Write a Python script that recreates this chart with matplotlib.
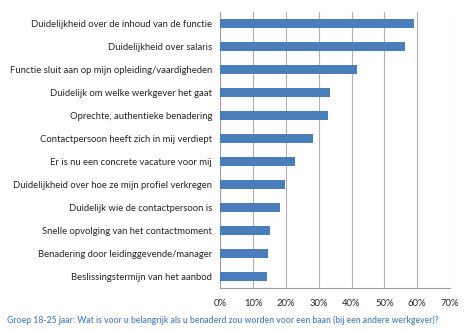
import matplotlib
matplotlib.use("Agg")
import numpy as np
from matplotlib import pyplot as plt
from matplotlib.ticker import PercentFormatter

labels = [
    "Duidelijkheid over de inhoud van de functie",
    "Duidelijkheid over salaris",
    "Functie sluit aan op mijn opleiding/vaardigheden",
    "Duidelijk om welke werkgever het gaat",
    "Oprechte, authentieke benadering",
    "Contactpersoon heeft zich in mij verdiept",
    "Er is nu een concrete vacature voor mij",
    "Duidelijkheid over hoe ze mijn profiel verkregen",
    "Duidelijk wie de contactpersoon is",
    "Snelle opvolging van het contactmoment",
    "Benadering door leidinggevende/manager",
    "Beslissingstermijn van het aanbod",
]
values = [59.1, 56.2, 41.8, 33.5, 32.9, 28.3, 22.9, 19.7, 18.3, 15.2, 14.4, 14.1]
caption = "Groep 18-25 jaar: Wat is voor u belangrijk als u benaderd zou worden voor een baan (bij een andere werkgever)?"

plt.rcParams['font.family'] = ['Lato', 'DejaVu Sans']

fig = plt.figure(figsize=(4.67, 3.34), dpi=100)
ax = fig.add_axes([220.3/467, 1-288/334, (450-220.3)/467, 276/334])

y = np.arange(len(labels))
ax.barh(y, values, height=0.36, color='#4A7EBB', zorder=3)
ax.set_yticks(y)
ax.set_yticklabels(labels, fontsize=6.8, color='#262626')
ax.set_ylim(len(labels)-0.5, -0.5)
ax.set_xlim(0, 70)
ax.set_xticks(np.arange(0, 71, 10))
ax.xaxis.set_major_formatter(PercentFormatter(decimals=0))
ax.tick_params(axis='x', labelsize=6.8, colors='#262626', length=0, pad=8)
ax.tick_params(axis='y', length=0, pad=6)
ax.grid(axis='x', color='#B0B0B0', linewidth=0.8, zorder=0)
for s in ['top', 'right']:
    ax.spines[s].set_visible(False)
for s in ['left', 'bottom']:
    ax.spines[s].set_color('#A0A0A0')
    ax.spines[s].set_linewidth(0.8)

fig.text(7/467, 1-320/334, caption, fontsize=6.2, color='#4F81BD',
         fontweight='semibold', va='center', ha='left')

fig.savefig("out.png", dpi=100)
